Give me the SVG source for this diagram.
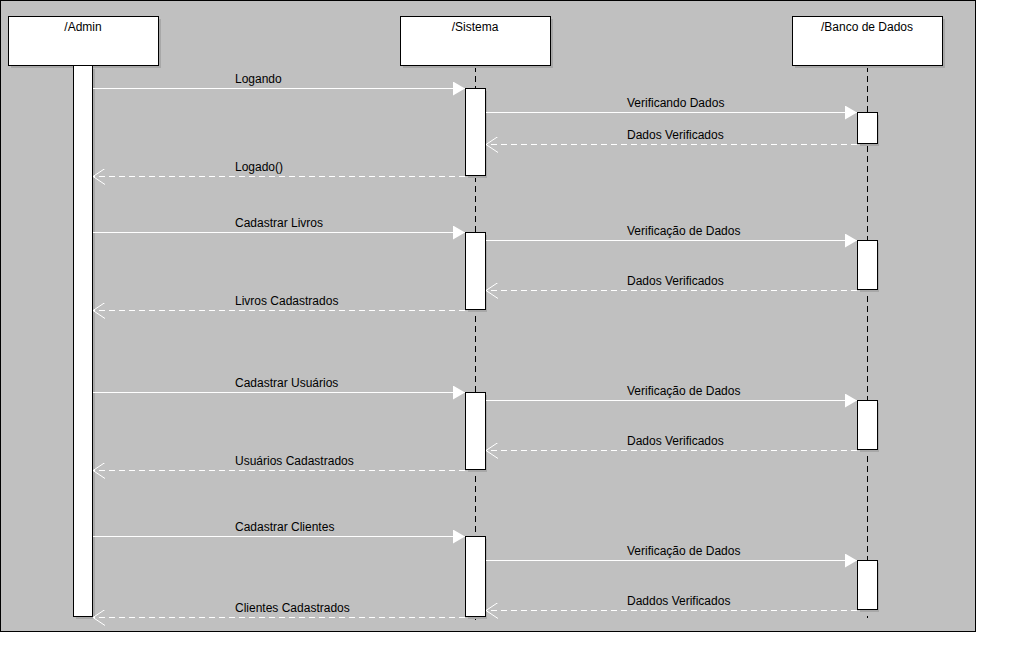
<svg xmlns="http://www.w3.org/2000/svg" width="1014" height="670" viewBox="0 0 1014 670">
<defs>
<style>
.lbl{font-family:"Liberation Sans",Arial,sans-serif;font-size:12px;fill:#000}
.hd{font-family:"Liberation Sans",Arial,sans-serif;font-size:12px;fill:#000;text-anchor:middle}
.box{fill:#fff;stroke:#000;stroke-width:1}
.shadow{fill:#a8a8a8}
.life{stroke:#000;stroke-width:1;stroke-dasharray:6 4;fill:none}
.msg{stroke:#fff;stroke-width:1;fill:none}
.ret{stroke:#fff;stroke-width:1;fill:none;stroke-dasharray:6 4}
</style>
<marker id="fill" markerWidth="14" markerHeight="14" refX="12" refY="7" orient="auto" markerUnits="userSpaceOnUse">
<path d="M0,0 L12,7 L0,14 Z" fill="#fff"/>
</marker>
<marker id="open" markerWidth="14" markerHeight="16" refX="12" refY="8" orient="auto" markerUnits="userSpaceOnUse">
<path d="M0,0 L12,8 L0,16" fill="none" stroke="#fff" stroke-width="1"/>
</marker>
</defs>
<rect x="0.5" y="0.5" width="975" height="631" fill="#c0c0c0" stroke="#000" stroke-width="1"/>

<g id="admin">
<rect class="shadow" x="11" y="19" width="150" height="49"/>
<rect class="box" x="8.5" y="16.5" width="150" height="49"/>
<text class="hd" x="83" y="31">/Admin</text>
<rect class="shadow" x="76" y="69" width="19" height="550"/>
<rect class="box" x="73.5" y="65.5" width="19" height="551"/>
</g>

<g id="sistema">
<line class="life" x1="475.5" y1="66" x2="475.5" y2="620"/>
<rect class="shadow" x="403" y="19" width="150" height="49"/>
<rect class="box" x="400.5" y="16.5" width="150" height="49"/>
<text class="hd" x="475" y="31">/Sistema</text>
<rect class="shadow" x="468" y="91" width="19" height="87"/>
<rect class="box" x="465.5" y="88.5" width="20" height="87"/>
<rect class="shadow" x="468" y="235" width="19" height="77"/>
<rect class="box" x="465.5" y="232.5" width="20" height="77"/>
<rect class="shadow" x="468" y="395" width="19" height="77"/>
<rect class="box" x="465.5" y="392.5" width="20" height="77"/>
<rect class="shadow" x="468" y="539" width="19" height="80"/>
<rect class="box" x="465.5" y="536.5" width="20" height="80"/>
</g>

<g id="banco">
<line class="life" x1="867.5" y1="66" x2="867.5" y2="618"/>
<rect class="shadow" x="795" y="19" width="150" height="49"/>
<rect class="box" x="792.5" y="16.5" width="150" height="49"/>
<text class="hd" x="867" y="31">/Banco de Dados</text>
<rect class="shadow" x="860" y="115" width="19" height="31"/>
<rect class="box" x="857.5" y="112.5" width="20" height="31"/>
<rect class="shadow" x="860" y="243" width="19" height="49"/>
<rect class="box" x="857.5" y="240.5" width="20" height="49"/>
<rect class="shadow" x="860" y="403" width="19" height="49"/>
<rect class="box" x="857.5" y="400.5" width="20" height="49"/>
<rect class="shadow" x="860" y="563" width="19" height="49"/>
<rect class="box" x="857.5" y="560.5" width="20" height="49"/>
</g>

<g id="connectors">
<line class="msg" x1="93" y1="88.5" x2="465" y2="88.5" marker-end="url(#fill)"/>
<line class="msg" x1="486" y1="112.5" x2="857" y2="112.5" marker-end="url(#fill)"/>
<line class="ret" x1="857" y1="144.5" x2="486" y2="144.5" marker-end="url(#open)"/>
<line class="ret" x1="465" y1="176.5" x2="93" y2="176.5" marker-end="url(#open)"/>

<line class="msg" x1="93" y1="232.5" x2="465" y2="232.5" marker-end="url(#fill)"/>
<line class="msg" x1="486" y1="240.5" x2="857" y2="240.5" marker-end="url(#fill)"/>
<line class="ret" x1="857" y1="290.5" x2="486" y2="290.5" marker-end="url(#open)"/>
<line class="ret" x1="465" y1="310.5" x2="93" y2="310.5" marker-end="url(#open)"/>

<line class="msg" x1="93" y1="392.5" x2="465" y2="392.5" marker-end="url(#fill)"/>
<line class="msg" x1="486" y1="400.5" x2="857" y2="400.5" marker-end="url(#fill)"/>
<line class="ret" x1="857" y1="450.5" x2="486" y2="450.5" marker-end="url(#open)"/>
<line class="ret" x1="465" y1="470.5" x2="93" y2="470.5" marker-end="url(#open)"/>

<line class="msg" x1="93" y1="536.5" x2="465" y2="536.5" marker-end="url(#fill)"/>
<line class="msg" x1="486" y1="560.5" x2="857" y2="560.5" marker-end="url(#fill)"/>
<line class="ret" x1="857" y1="610.5" x2="486" y2="610.5" marker-end="url(#open)"/>
<line class="ret" x1="465" y1="617.5" x2="93" y2="617.5" marker-end="url(#open)"/>

<text class="lbl" x="235" y="83">Logando</text>
<text class="lbl" x="627" y="107">Verificando Dados</text>
<text class="lbl" x="627" y="139">Dados Verificados</text>
<text class="lbl" x="235" y="171">Logado()</text>

<text class="lbl" x="235" y="227">Cadastrar Livros</text>
<text class="lbl" x="627" y="235">Verificação de Dados</text>
<text class="lbl" x="627" y="285">Dados Verificados</text>
<text class="lbl" x="235" y="305">Livros Cadastrados</text>

<text class="lbl" x="235" y="387">Cadastrar Usuários</text>
<text class="lbl" x="627" y="395">Verificação de Dados</text>
<text class="lbl" x="627" y="445">Dados Verificados</text>
<text class="lbl" x="235" y="465">Usuários Cadastrados</text>

<text class="lbl" x="235" y="531">Cadastrar Clientes</text>
<text class="lbl" x="627" y="555">Verificação de Dados</text>
<text class="lbl" x="627" y="605">Daddos Verificados</text>
<text class="lbl" x="235" y="612">Clientes Cadastrados</text>
</g>
</svg>
